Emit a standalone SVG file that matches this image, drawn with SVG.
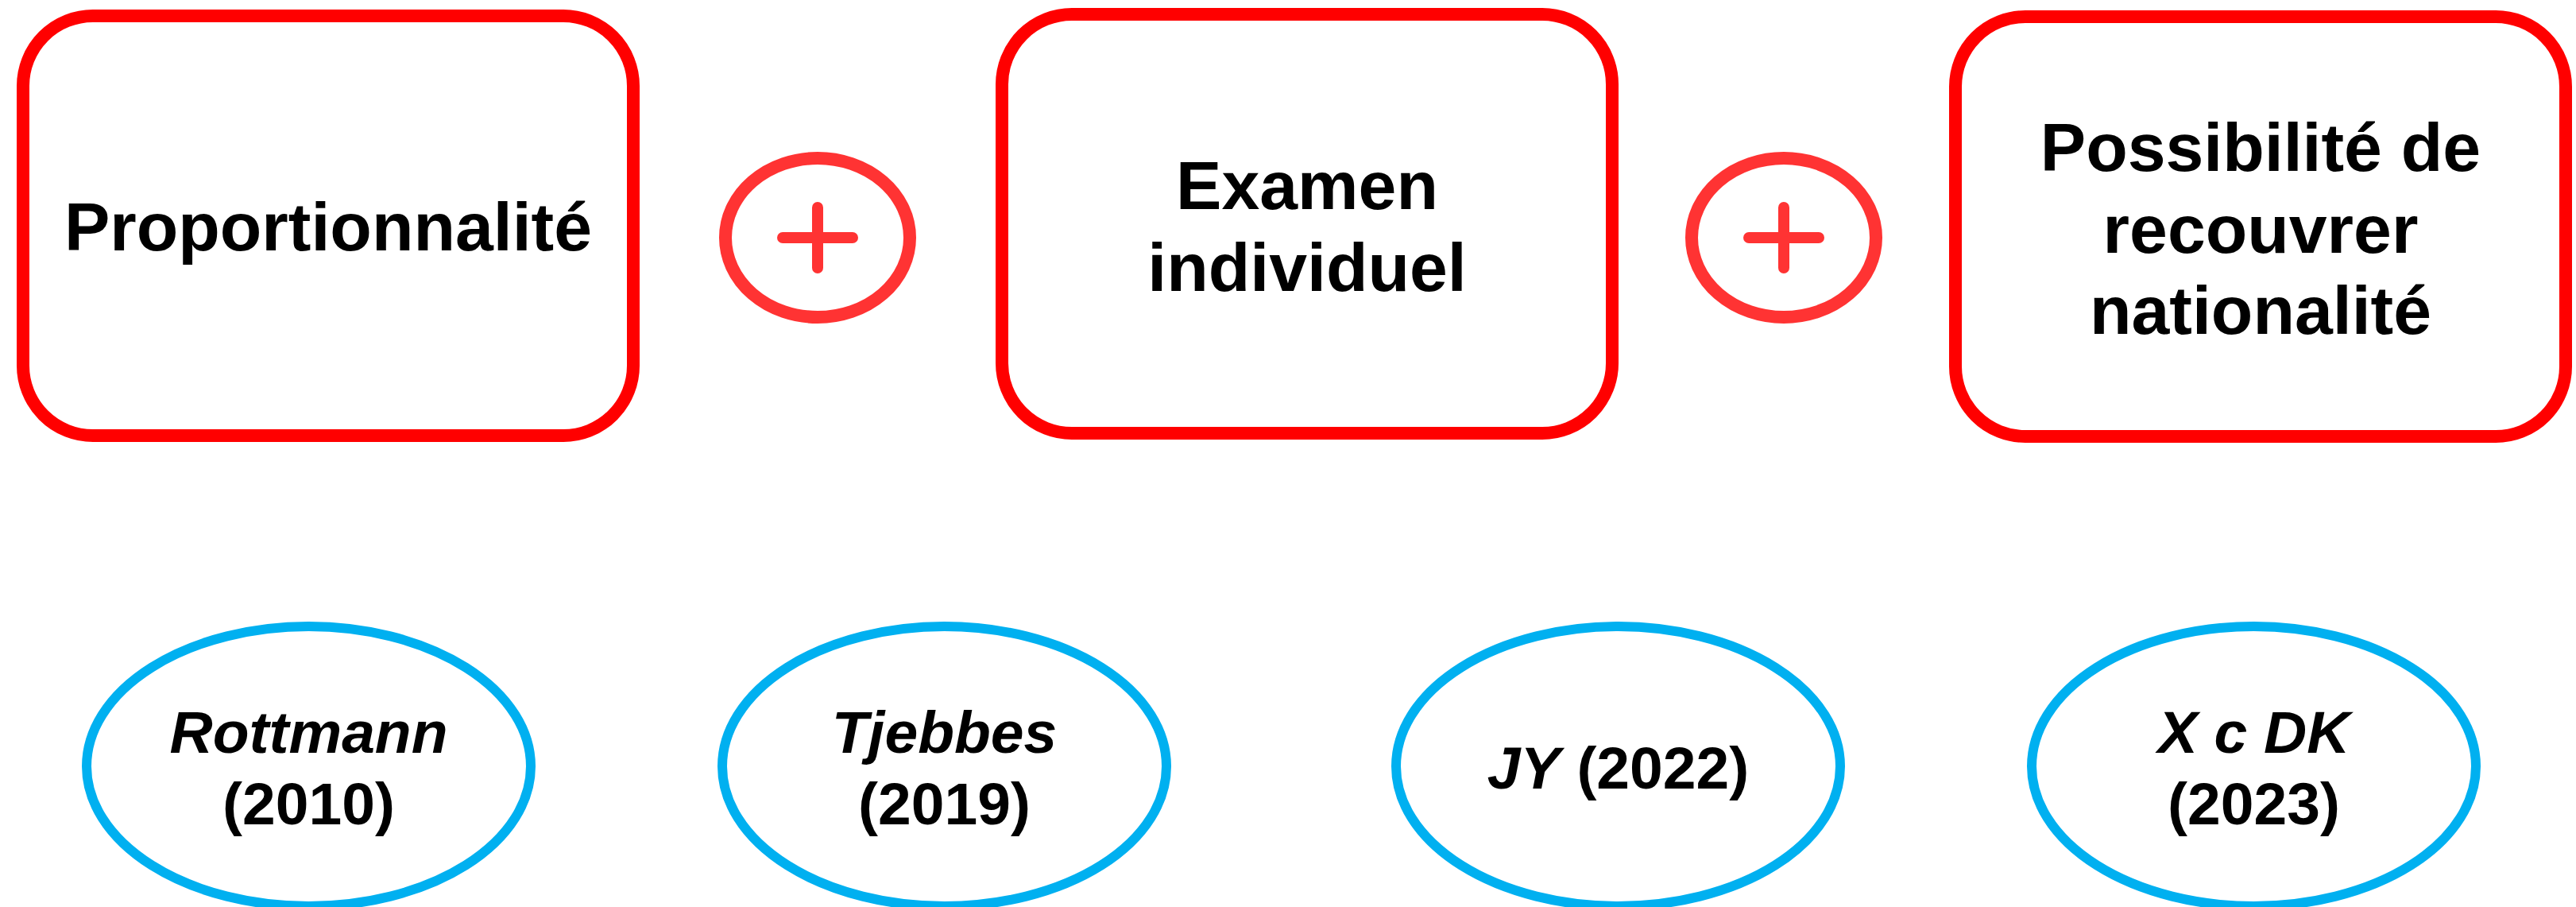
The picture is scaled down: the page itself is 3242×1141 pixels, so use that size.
<svg xmlns="http://www.w3.org/2000/svg" width="3242" height="1141" viewBox="0 0 3242 1141">
  <style>
    .box { fill: #FFFFFF; stroke: #FF0000; stroke-width: 16; }
    .plus-ring { fill: #FFFFFF; stroke: #FF3333; stroke-width: 16; }
    .plus-bar { stroke: #FF3333; stroke-width: 14; stroke-linecap: round; fill: none; }
    .case { fill: #FFFFFF; stroke: #00B0F0; stroke-width: 12; }
    .t { font-family: "Liberation Sans", Arial, sans-serif; font-weight: bold; fill: #000000; text-anchor: middle; }
    .big { font-size: 86px; }
    .small { font-size: 75px; }
    .it { font-style: italic; }
  </style>
  <rect width="3242" height="1141" fill="#FFFFFF"/>

  <g id="connectors"></g>

  <g id="box-proportionnalite">
    <rect class="box" x="29" y="20" width="768" height="528" rx="88" ry="88"/>
    <text class="t big" x="413" y="315">Proportionnalité</text>
  </g>

  <g id="plus-1">
    <ellipse class="plus-ring" cx="1029" cy="299" rx="116" ry="100"/>
    <line class="plus-bar" x1="985" y1="299" x2="1073" y2="299"/>
    <line class="plus-bar" x1="1029" y1="261" x2="1029" y2="337"/>
  </g>

  <g id="box-examen">
    <rect class="box" x="1261" y="18" width="768" height="527" rx="88" ry="88"/>
    <text class="t big" x="1645" y="263">Examen</text>
    <text class="t big" x="1645" y="366">individuel</text>
  </g>

  <g id="plus-2">
    <ellipse class="plus-ring" cx="2245" cy="299" rx="116" ry="100"/>
    <line class="plus-bar" x1="2201" y1="299" x2="2289" y2="299"/>
    <line class="plus-bar" x1="2245" y1="261" x2="2245" y2="337"/>
  </g>

  <g id="box-possibilite">
    <rect class="box" x="2461" y="21" width="768" height="528" rx="88" ry="88"/>
    <text class="t big" x="2845" y="215">Possibilité de</text>
    <text class="t big" x="2845" y="318">recouvrer</text>
    <text class="t big" x="2845" y="420">nationalité</text>
  </g>

  <g id="case-rottmann">
    <ellipse class="case" cx="388.5" cy="964" rx="279.5" ry="176"/>
    <text class="t small it" x="388.5" y="947">Rottmann</text>
    <text class="t small" x="388.5" y="1037">(2010)</text>
  </g>

  <g id="case-tjebbes">
    <ellipse class="case" cx="1188.5" cy="964" rx="279.5" ry="176"/>
    <text class="t small it" x="1188.5" y="947">Tjebbes</text>
    <text class="t small" x="1188.5" y="1037">(2019)</text>
  </g>

  <g id="case-jy">
    <ellipse class="case" cx="2036.5" cy="964" rx="279.5" ry="176"/>
    <text class="t small" x="2036.5" y="992"><tspan class="it">JY</tspan> (2022)</text>
  </g>

  <g id="case-xcdk">
    <ellipse class="case" cx="2836.5" cy="964" rx="279.5" ry="176"/>
    <text class="t small it" x="2836.5" y="947">X c DK</text>
    <text class="t small" x="2836.5" y="1037">(2023)</text>
  </g>
</svg>
